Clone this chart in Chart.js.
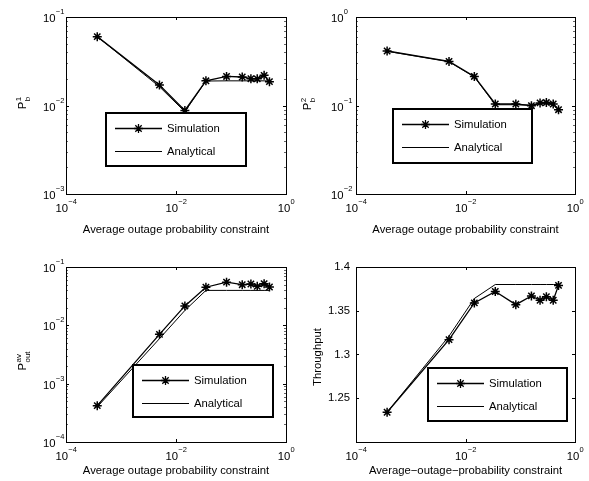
<!DOCTYPE html>
<html>
<head>
<meta charset="utf-8">
<script src="https://cdn.jsdelivr.net/npm/chart.js@4.4.0/dist/chart.umd.min.js"></script>
<style>
  body { margin: 0; background: #fff; }
  canvas { position: absolute; }
</style>
</head>
<body>
<canvas id="pb1" width="295" height="240" style="left:0;top:0"></canvas>
<canvas id="pb2" width="294" height="240" style="left:295px;top:0"></canvas>
<canvas id="pout" width="295" height="241" style="left:0;top:240px"></canvas>
<canvas id="thr" width="294" height="241" style="left:295px;top:240px"></canvas>
<script>
// x values shared by all four panels (average outage probability constraint)
const constraint = [3.7e-4, 0.005, 0.0145, 0.035, 0.083, 0.16, 0.23, 0.30, 0.40, 0.50]

const pb1Sim = [0.060, 0.0170, 0.0088, 0.0190, 0.0213, 0.0210, 0.0201, 0.0200, 0.0219, 0.0186]
const pb1Ana = [0.060, 0.0163, 0.0085, 0.0189, 0.0190, 0.0190, 0.0190, 0.0190, 0.0190, 0.0190]

const pb2Sim = [0.413, 0.315, 0.213, 0.104, 0.104, 0.0995, 0.107, 0.108, 0.104, 0.0897]
const pb2Ana = [0.410, 0.312, 0.210, 0.102, 0.102, 0.101, 0.104, 0.105, 0.102, 0.090]

const poutSim = [4.2e-4, 0.0070, 0.0215, 0.045, 0.055, 0.0497, 0.0511, 0.0466, 0.0517, 0.0454]
const poutAna = [4.0e-4, 0.0059, 0.0180, 0.0397, 0.0397, 0.0397, 0.0397, 0.0397, 0.0397, 0.0397]

const thrSim = [1.234, 1.317, 1.359, 1.372, 1.357, 1.367, 1.362, 1.366, 1.362, 1.379]
const thrAna = [1.234, 1.321, 1.364, 1.380, 1.380, 1.380, 1.380, 1.380, 1.380, 1.380]

const seriesLabels = ['Simulation', 'Analytical']
const xTicks = [1e-4, 1e-2, 1]
const pb1Ticks = [1e-3, 1e-2, 1e-1]
const pb2Ticks = [1e-2, 1e-1, 1]
const poutTicks = [1e-4, 1e-3, 1e-2, 1e-1]
const thrTicks = [1.25, 1.3, 1.35, 1.4]
const thrTickLabels = ['1.25', '1.3', '1.35', '1.4']
const xTitle = 'Average outage probability constraint'
const xTitleThr = 'Average\u2212outage\u2212probability constraint'

const FONT = 'Liberation Sans, Arial, Helvetica, sans-serif'
const FS = 11.3

// "10" with a raised exponent, as matlab draws log tick labels
function drawPow(ctx, v, x, yMid, align) {
  const e = String(Math.round(Math.log10(v))).replace('-', '\u2212')
  ctx.font = FS + 'px ' + FONT
  const wb = ctx.measureText('10').width
  ctx.font = '7.5px ' + FONT
  const we = ctx.measureText(e).width
  const sx = align === 'center' ? x - (wb + we) / 2 : x
  ctx.textAlign = 'left'
  ctx.textBaseline = 'alphabetic'
  ctx.font = FS + 'px ' + FONT
  ctx.fillText('10', sx, yMid + 4)
  ctx.font = '7.5px ' + FONT
  ctx.fillText(e, sx + wb + 0.3, yMid - 4)
}

function matlabPlugin(cfg) {
  return {
    id: 'matlab',
    afterDraw(chart) {
      const ctx = chart.ctx
      const a = chart.chartArea
      const xs = chart.scales.x
      const ys = chart.scales.y
      const logY = cfg.yType === 'logarithmic'
      ctx.save()
      ctx.strokeStyle = '#000'
      ctx.lineWidth = 1
      // inward tick marks
      ctx.beginPath()
      xTicks.forEach(v => {
        const px = Math.round(xs.getPixelForValue(v)) + 0.5
        ctx.moveTo(px, a.bottom); ctx.lineTo(px, a.bottom - 3)
        ctx.moveTo(px, a.top); ctx.lineTo(px, a.top + 3)
      })
      cfg.yTicks.forEach(v => {
        const py = Math.round(ys.getPixelForValue(v)) + 0.5
        ctx.moveTo(a.left, py); ctx.lineTo(a.left + 3, py)
        ctx.moveTo(a.right, py); ctx.lineTo(a.right - 3, py)
      })
      ctx.stroke()
      if (logY) {
        ctx.strokeStyle = '#666'
        ctx.beginPath()
        for (let d = Math.round(Math.log10(cfg.yMin)); d < Math.round(Math.log10(cfg.yMax)); d++) {
          for (let k = 2; k < 10; k++) {
            const py = Math.round(ys.getPixelForValue(k * Math.pow(10, d))) + 0.5
            ctx.moveTo(a.left, py); ctx.lineTo(a.left + 2, py)
            ctx.moveTo(a.right, py); ctx.lineTo(a.right - 2, py)
          }
        }
        ctx.stroke()
      }
      // axes box
      ctx.strokeStyle = '#000'
      ctx.strokeRect(a.left + 0.5, a.top + 0.5, a.right - a.left, a.bottom - a.top)

      // log tick labels
      ctx.fillStyle = '#000'
      xTicks.forEach(v => drawPow(ctx, v, xs.getPixelForValue(v), a.bottom + 13.5, 'center'))
      if (logY) {
        cfg.yTicks.forEach(v => drawPow(ctx, v, cfg.yLabelX, ys.getPixelForValue(v) + 1, 'left'))
      }

      // legend box inside the axes
      const lg = cfg.legend
      ctx.fillStyle = '#fff'
      ctx.fillRect(lg.x, lg.y, lg.w, lg.h)
      ctx.lineWidth = 2
      ctx.strokeRect(lg.x, lg.y, lg.w, lg.h)
      ctx.font = FS + 'px ' + FONT
      ctx.textBaseline = 'middle'
      ctx.textAlign = 'left'
      chart.data.datasets.forEach((ds, i) => {
        const ry = lg.y + 15 + i * 23 + 0.5
        ctx.strokeStyle = '#000'
        ctx.lineWidth = ds.borderWidth
        ctx.beginPath()
        ctx.moveTo(lg.x + 9, ry); ctx.lineTo(lg.x + 56, ry)
        ctx.stroke()
        if (ds.pointRadius > 0) {
          Chart.helpers.drawPoint(ctx, {
            pointStyle: 'star', radius: ds.pointRadius, borderWidth: ds.pointBorderWidth, rotation: 0
          }, lg.x + 32.5, ry)
        }
        ctx.fillStyle = '#000'
        ctx.fillText(ds.label, lg.x + 61, ry + 0.5)
      })

      // y axis title, rotated, with super/subscripts
      const yl = cfg.ylab
      ctx.translate(yl.x, yl.y)
      ctx.rotate(-Math.PI / 2)
      ctx.fillStyle = '#000'
      ctx.textBaseline = 'alphabetic'
      if (yl.text) {
        ctx.textAlign = 'center'
        ctx.font = FS + 'px ' + FONT
        ctx.fillText(yl.text, 0, 4)
      } else {
        ctx.textAlign = 'left'
        ctx.font = FS + 'px ' + FONT
        const wb = ctx.measureText(yl.base).width
        ctx.font = '8px ' + FONT
        const ws = Math.max(ctx.measureText(yl.sup).width, ctx.measureText(yl.sub).width)
        const sx = -(wb + ws + 0.5) / 2
        ctx.font = FS + 'px ' + FONT
        ctx.fillText(yl.base, sx, 4)
        ctx.font = '8px ' + FONT
        ctx.fillText(yl.sup, sx + wb + 0.5, -1)
        ctx.fillText(yl.sub, sx + wb + 0.5, 7.5)
      }
      ctx.restore()
    }
  }
}

function makePanel(id, cfg) {
  const points = arr => arr.map((y, i) => ({ x: constraint[i], y }))
  const tickFont = { family: FONT, size: FS }
  const logY = cfg.yType === 'logarithmic'
  return new Chart(document.getElementById(id), {
    type: 'line',
    data: {
      datasets: [
        {
          label: seriesLabels[0],
          data: points(cfg.sim),
          borderColor: '#000',
          borderWidth: 1.3,
          pointStyle: 'star',
          pointRadius: 4.5,
          pointBorderWidth: 1.5,
          pointBorderColor: '#000',
          fill: false
        },
        {
          label: seriesLabels[1],
          data: points(cfg.ana),
          borderColor: '#000',
          borderWidth: 1,
          pointRadius: 0,
          fill: false
        }
      ]
    },
    options: {
      responsive: false,
      animation: false,
      layout: { padding: { left: 0, top: cfg.top, right: cfg.padRight, bottom: 0 } },
      plugins: {
        legend: { display: false },
        tooltip: { enabled: false }
      },
      scales: {
        x: {
          type: 'logarithmic',
          min: 1e-4,
          max: 1,
          afterBuildTicks: s => { s.ticks = xTicks.map(v => ({ value: v })) },
          afterFit: s => { s.height = cfg.xh; s.paddingLeft = 0; s.paddingRight = 0 },
          grid: { display: false, drawTicks: false },
          border: { display: false },
          ticks: { display: false },
          title: { display: true, text: cfg.xTitle, font: tickFont, color: '#000', padding: { top: 0, bottom: 3 } }
        },
        y: {
          type: cfg.yType,
          min: cfg.yMin,
          max: cfg.yMax,
          afterBuildTicks: s => { s.ticks = cfg.yTicks.map(v => ({ value: v })) },
          afterFit: s => { s.width = cfg.yw; s.paddingTop = 0; s.paddingBottom = 0 },
          grid: { display: false, drawTicks: false },
          border: { display: false },
          ticks: {
            display: !logY,
            callback: v => thrTickLabels[thrTicks.indexOf(v)],
            font: tickFont,
            color: '#000',
            padding: 6,
            autoSkip: false
          }
        }
      }
    },
    plugins: [matlabPlugin(cfg)]
  })
}

makePanel('pb1', {
  sim: pb1Sim, ana: pb1Ana, yType: 'logarithmic', yMin: 1e-3, yMax: 1e-1, yTicks: pb1Ticks,
  yLabelX: 43, yw: 66, top: 17, padRight: 9, xh: 46,
  xTitle: xTitle,
  legend: { x: 106, y: 113, w: 140, h: 53 },
  ylab: { x: 22, y: 103, base: 'P', sup: '1', sub: 'b' }
})
makePanel('pb2', {
  sim: pb2Sim, ana: pb2Ana, yType: 'logarithmic', yMin: 1e-2, yMax: 1, yTicks: pb2Ticks,
  yLabelX: 36, yw: 61, top: 17, padRight: 14, xh: 46,
  xTitle: xTitle,
  legend: { x: 98, y: 109, w: 139, h: 54 },
  ylab: { x: 12, y: 104, base: 'P', sup: '2', sub: 'b' }
})
makePanel('pout', {
  sim: poutSim, ana: poutAna, yType: 'logarithmic', yMin: 1e-4, yMax: 1e-1, yTicks: poutTicks,
  yLabelX: 43, yw: 66, top: 27, padRight: 9, xh: 39,
  xTitle: xTitle,
  legend: { x: 133, y: 125, w: 140, h: 52 },
  ylab: { x: 22, y: 121, base: 'P', sup: 'av', sub: 'out' }
})
makePanel('thr', {
  sim: thrSim, ana: thrAna, yType: 'linear', yMin: 1.2, yMax: 1.4, yTicks: thrTicks,
  yLabelX: 0, yw: 61, top: 27, padRight: 14, xh: 39,
  xTitle: xTitleThr,
  legend: { x: 133, y: 128, w: 139, h: 53 },
  ylab: { x: 22, y: 117, text: 'Throughput' }
})
</script>
</body>
</html>
